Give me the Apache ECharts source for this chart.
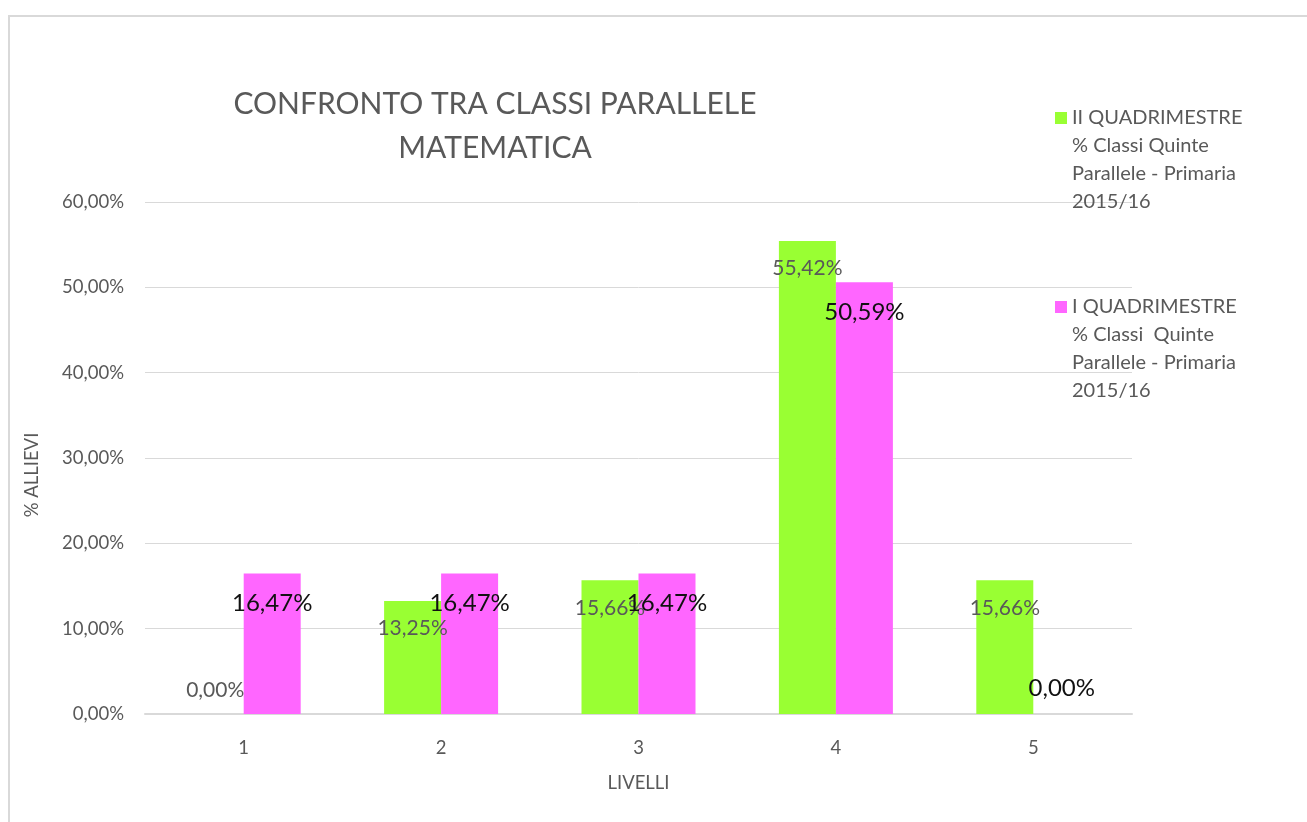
<!DOCTYPE html>
<html>
<head>
<meta charset="utf-8">
<title>Confronto tra classi parallele - Matematica</title>
<script src="https://cdn.jsdelivr.net/npm/echarts@6/dist/echarts.min.js"></script>
<style>
  html, body { margin: 0; padding: 0; background: #fff; }
  #chart { width: 1307px; height: 822px; }
  .frame {
    position: absolute; left: 8px; top: 15px; right: -10px; bottom: -10px;
    border-left: 2px solid #d9d9d9; border-top: 2px solid #d9d9d9;
    pointer-events: none;
  }
</style>
</head>
<body>
<div id="chart"></div>
<div class="frame"></div>
<script>
const livelli = ['1', '2', '3', '4', '5']
const secondoQuad = [0, 13.25, 15.66, 55.42, 15.66]
const primoQuad = [16.47, 16.47, 16.47, 50.59, 0]
const yTicks = [0, 10, 20, 30, 40, 50, 60]

const nameSecondo = 'II QUADRIMESTRE\n% Classi Quinte\nParallele - Primaria\n2015/16'
const namePrimo = 'I QUADRIMESTRE\n% Classi  Quinte\nParallele - Primaria\n2015/16'

const font = 'Lato, "Open Sans", sans-serif'
const grey = '#595959'

const pct = v => v.toFixed(2).replace('.', ',') + '%'

// zero bars get their label above the baseline, like excel does
const withLabels = (values, inside, zeroDist) => values.map(v => ({
  value: v,
  label: v === 0
    ? { position: 'top', distance: zeroDist }
    : { position: 'insideTop', distance: inside }
}))

// legend icon: small square at top of a tall box so it lines up with the first text line
const legendIcon = 'path://M0,8h12v12h-12z M0,0h0.01v0.01h-0.01z M0,112h0.01v0.01h-0.01z'

const myChart = echarts.init(document.getElementById('chart'))
myChart.setOption({
  animation: false,
  textStyle: { fontFamily: font },
  title: {
    text: 'CONFRONTO TRA CLASSI PARALLELE\nMATEMATICA',
    left: 490,
    top: 77,
    textAlign: 'center',
    textStyle: {
      fontFamily: font,
      fontSize: 30,
      fontWeight: 'normal',
      color: grey,
      lineHeight: 44
    }
  },
  legend: {
    orient: 'vertical',
    left: 1050,
    top: 99,
    itemWidth: 12,
    itemHeight: 112,
    itemGap: 77,
    icon: legendIcon,
    textStyle: {
      fontFamily: font,
      fontSize: 20,
      color: grey,
      lineHeight: 28
    },
    data: [nameSecondo, namePrimo]
  },
  grid: {
    left: 145,
    right: 175,
    top: 202,
    bottom: 108
  },
  xAxis: {
    type: 'category',
    data: livelli,
    name: 'LIVELLI',
    nameLocation: 'middle',
    nameGap: 60,
    nameTextStyle: { fontFamily: font, fontSize: 18.5, color: grey },
    axisLine: { lineStyle: { color: '#d9d9d9', width: 2 } },
    axisTick: { show: false },
    axisLabel: { margin: 25, fontSize: 18.5, color: grey, fontFamily: font }
  },
  yAxis: {
    type: 'value',
    min: yTicks[0],
    max: yTicks[yTicks.length - 1],
    interval: yTicks[1] - yTicks[0],
    name: '% ALLIEVI',
    nameLocation: 'middle',
    nameGap: 103,
    nameTextStyle: { fontFamily: font, fontSize: 18.5, color: grey, padding: [0, 34, 0, 0] },
    axisLine: { show: false },
    axisTick: { show: false },
    splitLine: { lineStyle: { color: '#d9d9d9', width: 1 } },
    axisLabel: {
      margin: 21,
      fontSize: 18.5,
      color: grey,
      fontFamily: font,
      formatter: v => pct(v)
    }
  },
  series: [
    {
      name: nameSecondo,
      type: 'bar',
      data: withLabels(secondoQuad, 17, 13),
      barWidth: 57,
      barGap: '0%',
      itemStyle: { color: '#99ff33' },
      label: {
        show: true,
        fontFamily: font,
        fontSize: 21,
        color: grey,
        formatter: p => pct(p.value)
      }
    },
    {
      name: namePrimo,
      type: 'bar',
      data: withLabels(primoQuad, 18, 14),
      barWidth: 57,
      barGap: '0%',
      itemStyle: { color: '#ff66ff' },
      label: {
        show: true,
        fontFamily: font,
        fontSize: 24,
        color: '#111111',
        formatter: p => pct(p.value)
      }
    }
  ]
})
</script>
</body>
</html>
